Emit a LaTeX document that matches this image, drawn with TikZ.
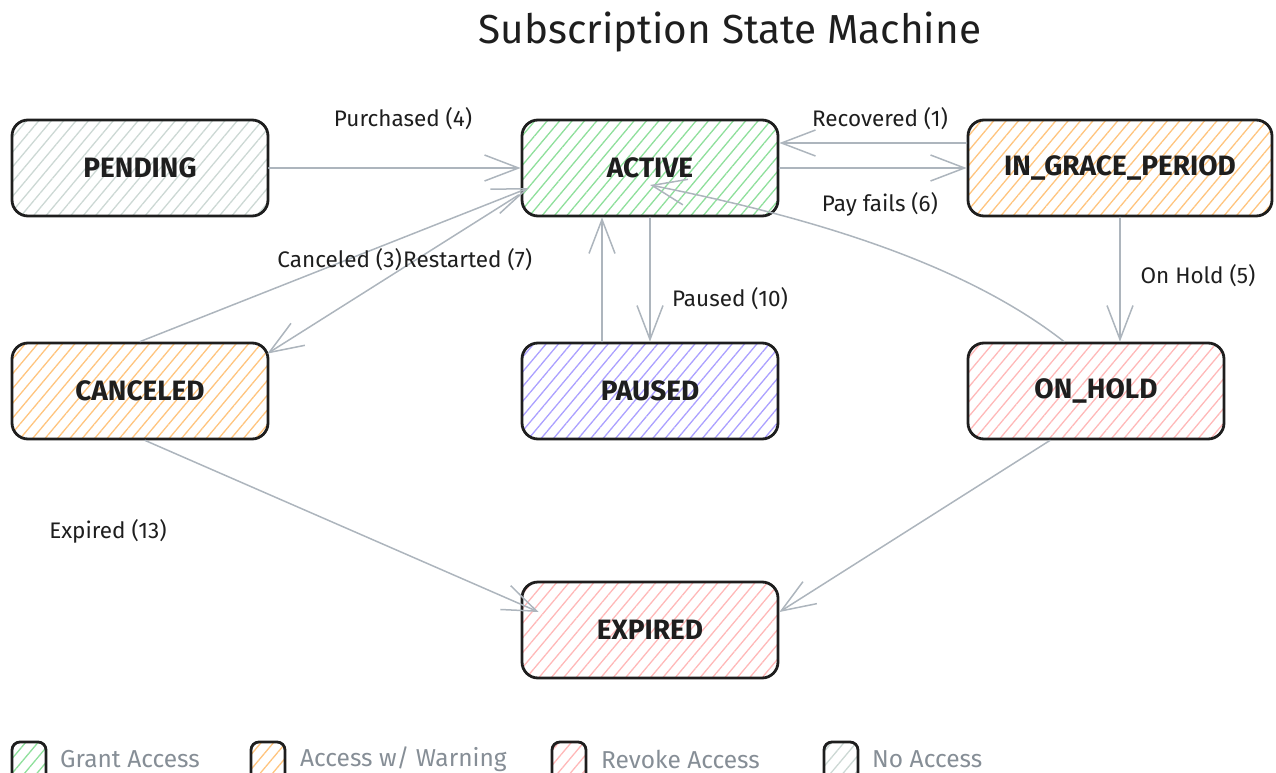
\documentclass[tikz,border=0pt]{standalone}
\usepackage{fontspec}
\setmainfont{Fira Sans}
\usetikzlibrary{arrows.meta,patterns.meta,calc}

\definecolor{ink}{HTML}{1E1E1E}
\definecolor{wire}{HTML}{ADB5BD}
\definecolor{muted}{HTML}{868E96}
\definecolor{hgreen}{HTML}{8EDF9B}
\definecolor{horange}{HTML}{FFC47E}
\definecolor{hviolet}{HTML}{ABA0FF}
\definecolor{hred}{HTML}{FFB8B8}
\definecolor{hgrey}{HTML}{CCD8D4}

\tikzset{
  hatch/.style={pattern={Lines[angle=50,distance=9.5pt,line width=1.3pt]}, pattern color=#1},
  state/.style={draw=ink, line width=2.8pt, rounded corners=16pt,
    minimum width=256pt, minimum height=96pt, text=ink,
    font=\fontsize{28}{32}\selectfont\bfseries, hatch=#1},
  flow/.style={draw=wire, line width=1.5pt, line cap=round, line join=round,
    -{Straight Barb[length=34pt,width=26pt]}},
  tag/.style={font=\fontsize{22.5}{26}\selectfont, text=ink, inner sep=0pt},
  keybox/.style={draw=ink, line width=2.8pt, rounded corners=8pt,
    minimum width=34pt, minimum height=42pt, hatch=#1},
  keytext/.style={font=\fontsize{24.5}{28}\selectfont, text=muted, anchor=west, inner sep=0pt}
}

\begin{document}
\begin{tikzpicture}[x=1pt, y=-1pt]
  \useasboundingbox (0,0) rectangle (1276,773);

  % title
  \node[font=\fontsize{40.5}{46}\selectfont, text=ink] (title) at (730,32) {Subscription State Machine};

  % states
  \node[state=hgrey]   (pending)  at (140,168)  {PENDING};
  \node[state=hgreen]  (active)   at (650,168)  {ACTIVE};
  \node[state=horange, minimum width=304pt] (grace) at (1120,168) {IN\_GRACE\_PERIOD};
  \node[state=horange] (canceled) at (140,391)  {CANCELED};
  \node[state=hviolet] (paused)   at (650,391)  {PAUSED};
  \node[state=hred]    (onhold)   at (1096,391) {ON\_HOLD};
  \node[state=hred]    (expired)  at (650,630)  {EXPIRED};

  % free ends of connectors
  \coordinate (activeIn)    at ([yshift=-17pt]active.center);
  \coordinate (activeLeft)  at ([xshift=8pt,yshift=-20pt]active.west);
  \coordinate (activeOut)   at ([xshift=-2pt,yshift=-27pt]active.west);
  \coordinate (canceledTip) at ([xshift=-2pt,yshift=-12pt]canceled.north east);
  \coordinate (expiredL)    at ([xshift=18pt,yshift=18pt]expired.west);
  \coordinate (expiredR)    at ([yshift=18pt]expired.east);

  % transitions
  \draw[flow] (pending.east) -- (active.west);
  \draw[flow] (active.east) -- (grace.west);
  \draw[flow] ([yshift=25pt]grace.west) -- ([yshift=25pt]active.east);
  \draw[flow] (grace.south) -- (grace.south |- onhold.north);
  \draw[flow] ([xshift=-32pt]onhold.north) .. controls (960,260) and (800,215) .. (activeIn);
  \draw[flow] (active.south) -- (paused.north);
  \draw[flow] ([xshift=-48pt]paused.north) -- ([xshift=-48pt]active.south);
  \draw[flow] (canceled.north) -- (activeLeft);
  \draw[flow] (activeOut) -- (canceledTip);
  \draw[flow] ([xshift=5pt]canceled.south) -- (expiredL);
  \draw[flow] ([xshift=-46pt]onhold.south) -- (expiredR);

  % transition labels
  \node[tag] (lpurchased) at (403,119) {Purchased (4)};
  \node[tag] (lrecovered) at (880,119) {Recovered (1)};
  \node[tag] (lpayfails)  at (880,204) {Pay fails (6)};
  \node[tag] (lonhold)    at (1198,276) {On Hold (5)};
  \node[tag] (lpaused)    at (730,299) {Paused (10)};
  \node[tag, anchor=east] (lcanceled)  at (402,260) {Canceled (3)};
  \node[tag, anchor=west] (lrestarted) at (403,260) {Restarted (7)};
  \node[tag] (lexpired)   at (108,531) {Expired (13)};

  % legend
  \node[keybox=hgreen]  (kgrant)  at (29,763)  {};
  \node[keytext] (tgrant)  at (60,759)  {Grant Access};
  \node[keybox=horange] (kwarn)   at (268,763) {};
  \node[keytext] (twarn)   at (300,759) {Access w/ Warning};
  \node[keybox=hred]    (krevoke) at (569,763) {};
  \node[keytext] (trevoke) at (601,759) {Revoke Access};
  \node[keybox=hgrey]   (knone)   at (841,763) {};
  \node[keytext] (tnone)   at (872,759) {No Access};
\end{tikzpicture}
\end{document}
